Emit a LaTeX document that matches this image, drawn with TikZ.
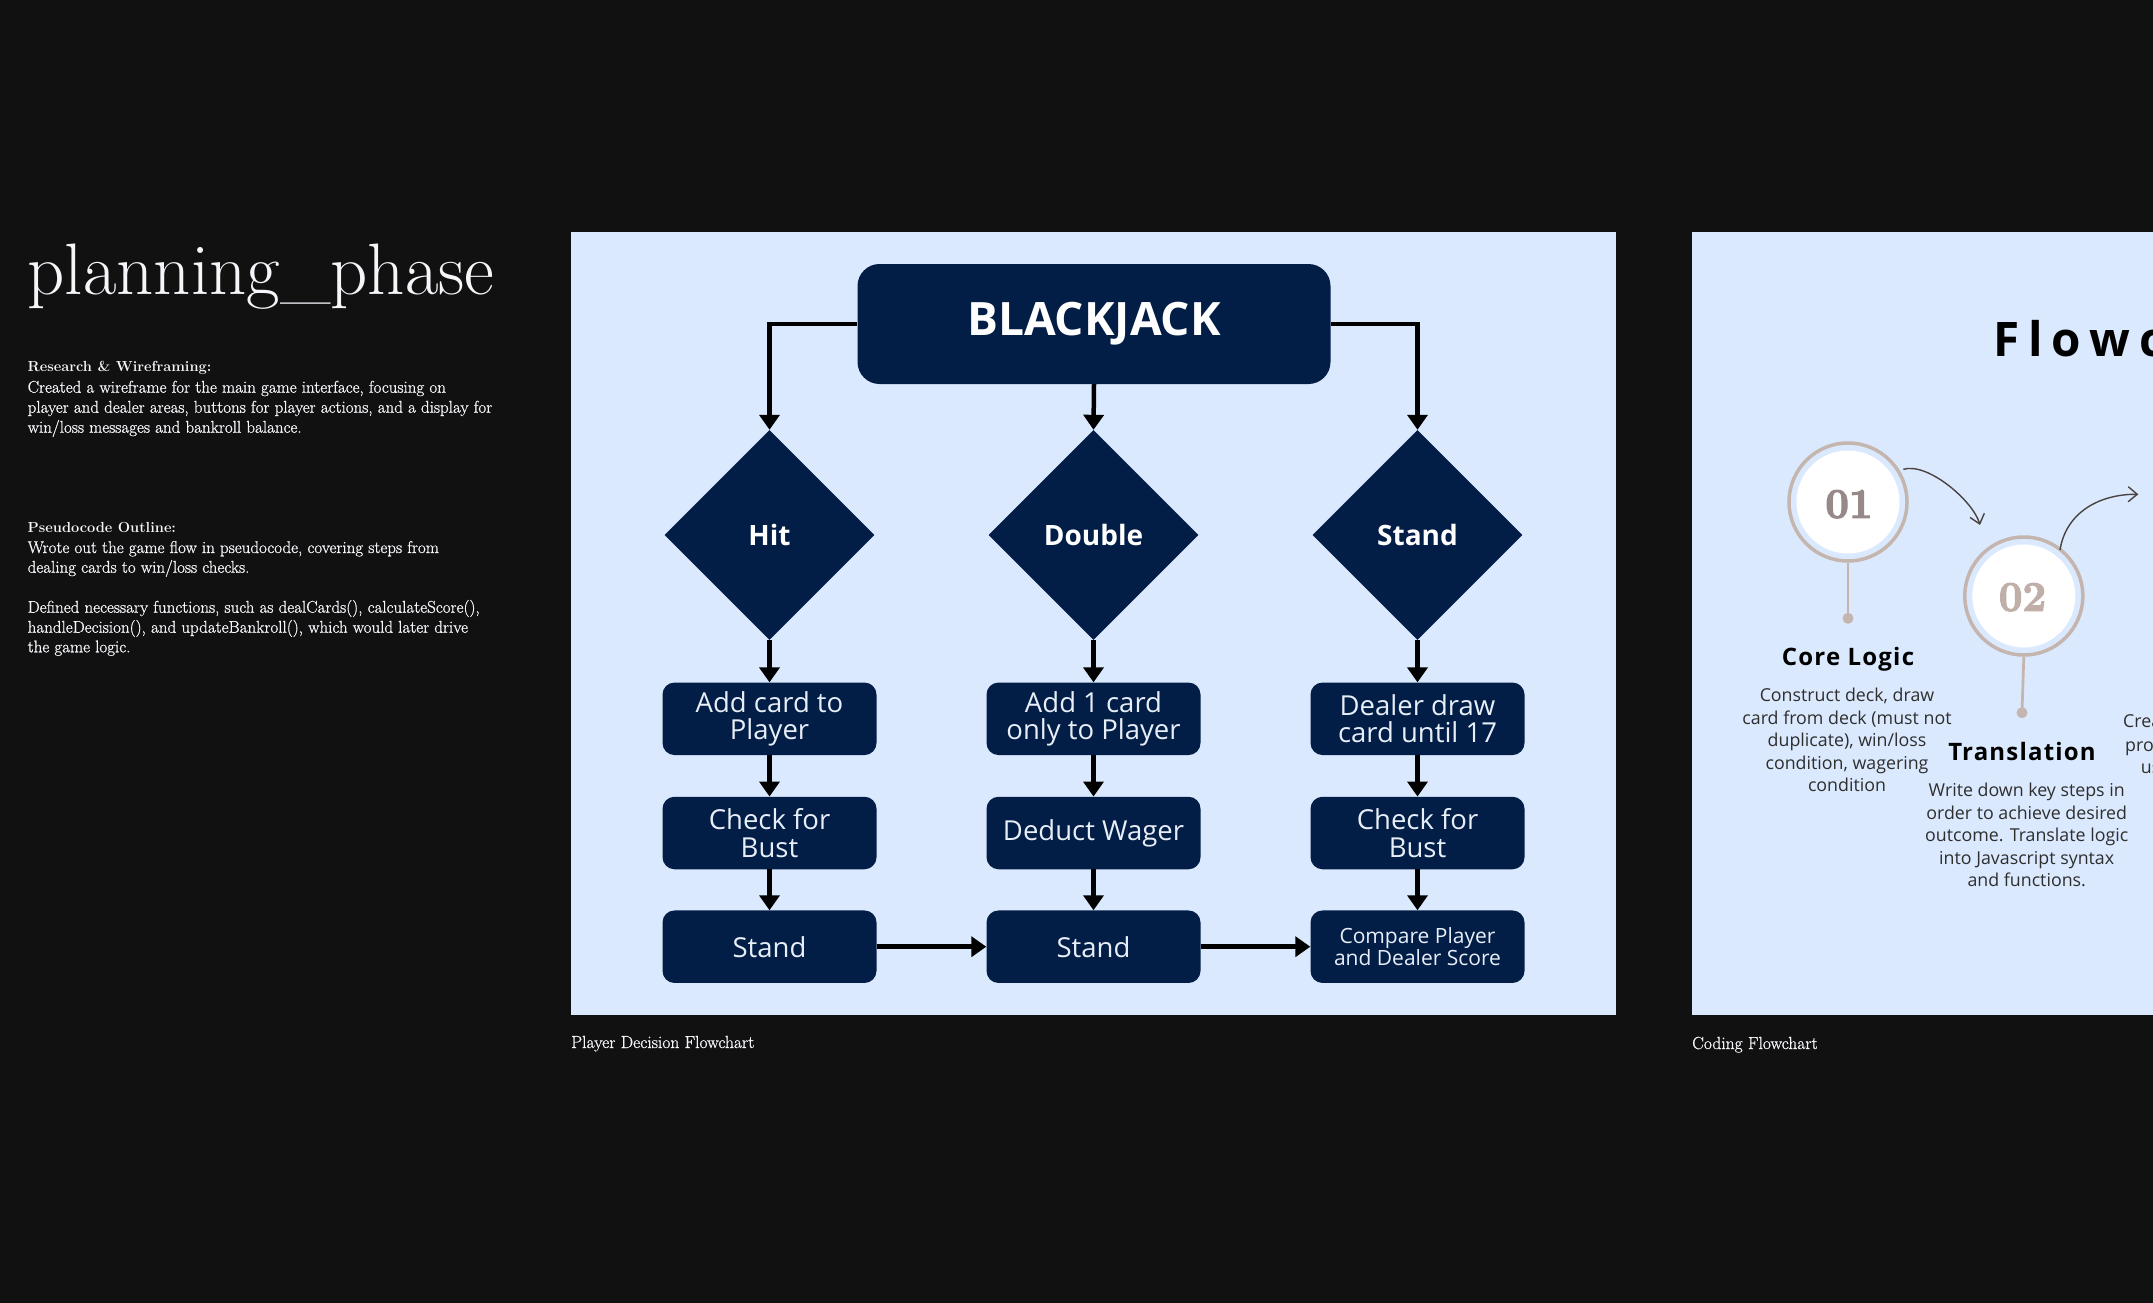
\documentclass[tikz,border=0pt]{standalone}
\usepackage{fontspec}
\newfontfamily\osans{Open Sans}
\newfontfamily\osansflow[LetterSpace=19]{Open Sans}
\newfontfamily\osanshead[LetterSpace=5]{Open Sans}
\newfontfamily\lmheavy[FakeBold=0.9]{Latin Modern Roman}
\newfontfamily\numfont[BoldFeatures={FakeBold=3}]{Latin Modern Roman}
\usetikzlibrary{shapes.geometric,arrows.meta}
\definecolor{bgc}{HTML}{111111}
\definecolor{panelc}{HTML}{DBE9FE}
\definecolor{navy}{HTML}{021E46}
\definecolor{boxtxt}{HTML}{E8EEF8}
\definecolor{ringc}{HTML}{C4B5AE}
\definecolor{numa}{HTML}{968A88}
\definecolor{numb}{HTML}{BFAFA8}
\definecolor{curvec}{HTML}{4A4341}
\definecolor{desc}{HTML}{2E2E2E}
\definecolor{lefttxt}{HTML}{F4F6FA}
\begin{document}
\begin{tikzpicture}[x=1pt,y=-1pt,
  lt/.style={anchor=base west, inner sep=0pt, text=lefttxt},
  bodyf/.style={font=\lmheavy\fontsize{17}{20}\selectfont},
  headf/.style={font=\bfseries\fontsize{14.6}{20}\selectfont},
  navybox/.style={fill=navy, rounded corners=12pt, minimum width=214pt, minimum height=72.5pt, inner sep=0pt, text=boxtxt, font=\osans\fontsize{27.5}{27.5}\selectfont, align=center},
  decbox/.style={diamond, fill=navy, minimum width=210pt, minimum height=210pt, inner sep=0pt, text=white, font=\osans\bfseries\fontsize{28}{28}\selectfont},
  flowarr/.style={line width=4.5pt, black, -{Triangle[width=20pt,length=15pt]}},
  flowarrh/.style={line width=5.5pt, black, -{Triangle[width=20pt,length=15pt]}},
  ringnode/.style={circle, draw=ringc, line width=3.5pt, fill=panelc, minimum size=118pt, inner sep=0pt},
  innernode/.style={circle, fill=white, minimum size=103pt, inner sep=0pt},
  dotnode/.style={circle, fill=ringc, minimum size=11pt, inner sep=0pt},
  stem/.style={draw=ringc, line width=2.7pt},
  curvearr/.style={draw=curvec, line width=1.4pt, -{Straight Barb[length=9pt,width=15pt]}},
  numf/.style={anchor=base, inner sep=0pt, font=\numfont\bfseries\fontsize{42}{42}\selectfont},
  dsc/.style={anchor=base, inner sep=0pt, text=desc, font=\osans\fontsize{17.8}{22.5}\selectfont},
  ttl/.style={anchor=base, inner sep=0pt, text=black, font=\osanshead\bfseries\fontsize{24}{24}\selectfont},
  captxt/.style={anchor=base west, inner sep=0pt, text=lefttxt, font=\lmheavy\fontsize{17.5}{20}\selectfont}
]
\useasboundingbox (0,0) rectangle (2153,1303);
\fill[bgc] (0,0) rectangle (2153,1303);

% ---------- left column ----------
\node[lt, font=\fontsize{72.9}{73}\selectfont] (title) at (27.5,294) {planning\_phase};
\node[lt, headf] (h1) at (27.5,371.7) {Research \& Wireframing:};
\node[lt, bodyf] (p11) at (27.5,392.7) {Created a wireframe for the main game interface, focusing on};
\node[lt, bodyf] (p12) at (27.5,412.7) {player and dealer areas, buttons for player actions, and a display for};
\node[lt, bodyf] (p13) at (27.5,432.7) {win/loss messages and bankroll balance.};
\node[lt, headf] (h2) at (27.5,532.3) {Pseudocode Outline:};
\node[lt, bodyf] (p21) at (27.5,553) {Wrote out the game flow in pseudocode, covering steps from};
\node[lt, bodyf] (p22) at (27.5,572.7) {dealing cards to win/loss checks.};
\node[lt, bodyf] (p23) at (27.5,612.7) {Defined necessary functions, such as dealCards(), calculateScore(),};
\node[lt, bodyf] (p24) at (27.5,632.7) {handleDecision(), and updateBankroll(), which would later drive};
\node[lt, bodyf] (p25) at (27.5,652.3) {the game logic.};

% ---------- panel 1 ----------
\fill[panelc] (571,232) rectangle (1616,1015);
\node[fill=navy, rounded corners=22pt, minimum width=473pt, minimum height=120pt, inner sep=0pt, text=white, font=\osans\bfseries\fontsize{46}{46}\selectfont] (bj) at (1094,324) {BLACKJACK};

\node[decbox] (hit) at (769.5,535) {Hit};
\node[decbox] (dbl) at (1093.5,535) {Double};
\node[decbox] (std) at (1417.5,535) {Stand};

\node[navybox] (a1) at (769.5,718.8) {Add card to\\Player};
\node[navybox] (a2) at (769.5,833) {Check for\\Bust};
\node[navybox] (a3) at (769.5,946.7) {Stand};
\node[navybox] (b1) at (1093.5,718.8) {Add 1 card\\only to Player};
\node[navybox] (b2) at (1093.5,833) {Deduct Wager};
\node[navybox] (b3) at (1093.5,946.7) {Stand};
\node[navybox] (c1) at (1417.5,718.8) {Dealer draw\\card until 17};
\node[navybox] (c2) at (1417.5,833) {Check for\\Bust};
\node[navybox, font=\osans\fontsize{21}{21.7}\selectfont] (c3) at (1417.5,946.7) {Compare Player\\and Dealer Score};

\draw[flowarr] (bj.west) -| (hit.north);
\draw[flowarr] (bj.south) -- (dbl.north);
\draw[flowarr] (bj.east) -| (std.north);
\draw[flowarr] (hit.south) -- (a1.north);
\draw[flowarr] (dbl.south) -- (b1.north);
\draw[flowarr] (std.south) -- (c1.north);
\draw[flowarr] (a1.south) -- (a2.north);
\draw[flowarr] (a2.south) -- (a3.north);
\draw[flowarr] (b1.south) -- (b2.north);
\draw[flowarr] (b2.south) -- (b3.north);
\draw[flowarr] (c1.south) -- (c2.north);
\draw[flowarr] (c2.south) -- (c3.north);
\draw[flowarrh] (a3.east) -- (b3.west);
\draw[flowarrh] (b3.east) -- (c3.west);

\node[captxt] (cap1) at (571,1048) {Player Decision Flowchart};

% ---------- panel 2 ----------
\begin{scope}
\clip (1692,232) rectangle (2153,1015);
\fill[panelc] (1692,232) rectangle (2153,1015);
\node[anchor=base west, inner sep=0pt, text=black, font=\osansflow\bfseries\fontsize{47.6}{47.6}\selectfont] (ftitle) at (1993,356.7) {Flowchart};

\node[ringnode] (r1) at (1848,502) {};
\node[innernode] (w1) at (1848,502) {};
\node[numf, text=numa] (n1) at (1849,517.7) {01};
\node[dotnode] (d1) at (1848,618.3) {};
\draw[stem] (r1.south) -- (d1.center);

\node[ringnode] (r2) at (2023.8,596) {};
\node[innernode] (w2) at (2023.8,596) {};
\node[numf, text=numb] (n2) at (2022.5,610.7) {02};
\node[dotnode] (d2) at (2022,712.7) {};
\draw[stem] (r2.south) -- (d2.center);

\coordinate (k1s) at (1903.3,469.3);
\coordinate (k1e) at (1980,525);
\draw[curvearr] (k1s) .. controls (1928,462) and (1973,501) .. (k1e);
\coordinate (k2s) at (2060,550);
\coordinate (k2e) at (2138.3,494.3);
\draw[curvearr] (k2s) .. controls (2066,512) and (2100,494) .. (k2e);

\node[ttl] (t1) at (1848,665) {Core Logic};
\node[dsc] (e11) at (1847,701.7) {Construct deck, draw};
\node[dsc] (e12) at (1847,724) {card from deck (must not};
\node[dsc] (e13) at (1847,746.7) {duplicate), win/loss};
\node[dsc] (e14) at (1847,769.3) {condition, wagering};
\node[dsc] (e15) at (1847,791.7) {condition};

\node[ttl] (t2) at (2022,760) {Translation};
\node[dsc] (e21) at (2026.7,796.7) {Write down key steps in};
\node[dsc] (e22) at (2026.7,819) {order to achieve desired};
\node[dsc] (e23) at (2026.7,841.7) {outcome. Translate logic};
\node[dsc] (e24) at (2026.7,864) {into Javascript syntax};
\node[dsc] (e25) at (2026.7,886.7) {and functions.};

\node[dsc, anchor=base west] (e31) at (2123,727) {Crea};
\node[dsc, anchor=base west] (e32) at (2125,751.7) {pro};
\node[dsc, anchor=base west] (e33) at (2140.7,773) {us};
\end{scope}

\node[captxt] (cap2) at (1692,1049) {Coding Flowchart};
\end{tikzpicture}
\end{document}
